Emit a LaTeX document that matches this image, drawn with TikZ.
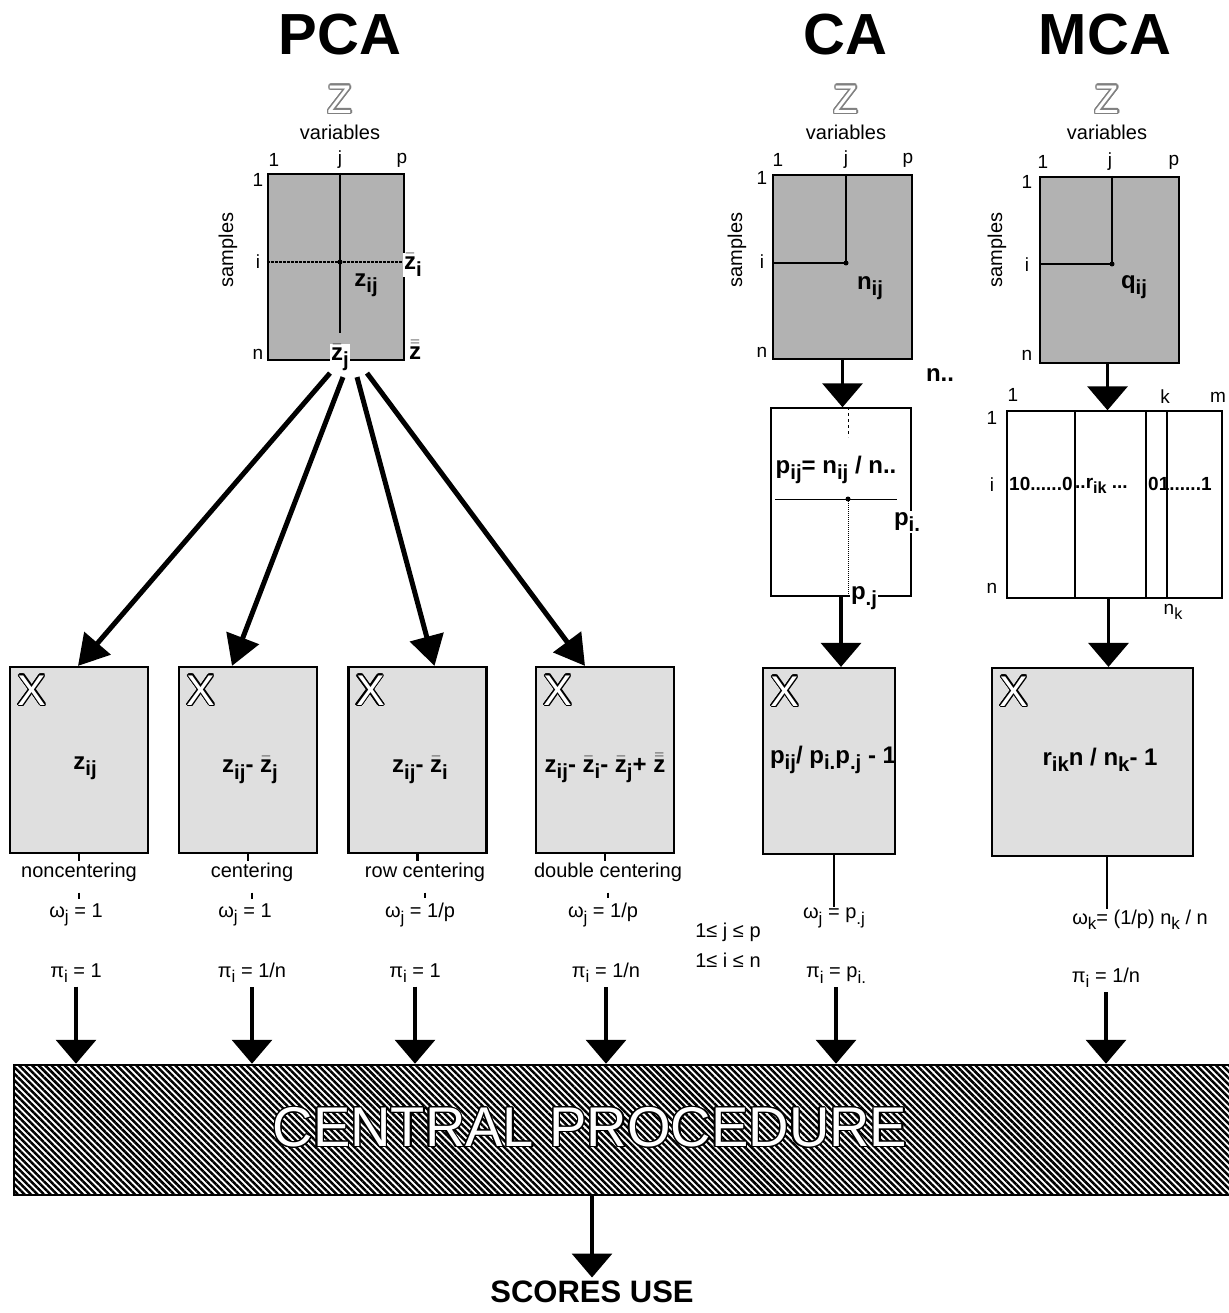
\documentclass[tikz,border=0pt]{standalone}
\usepackage{fontspec}
\setmainfont{Liberation Sans}
\usepackage{graphicx}
\usepackage[copies]{contour}
\usetikzlibrary{arrows.meta,patterns.meta}
\contourlength{1.3pt}

\newcommand{\zb}{\ensuremath{\bar{\hbox{\bfseries z}}}}
\newcommand{\zbb}{\ensuremath{\bar{\bar{\hbox{\bfseries z}}}}}
\newcommand{\lo}[1]{\raisebox{-0.5ex}{\scalebox{0.85}{#1}}}

\begin{document}
\begin{tikzpicture}
[x=1pt,y=-1pt,
  zmat/.style={draw,line width=2.2pt,fill=gray!60,inner sep=0pt},%
  xmat/.style={draw,line width=2.2pt,fill=gray!25,inner sep=0pt},%
  wmat/.style={draw,line width=1.4pt,fill=white,inner sep=0pt},%
  idx/.style={font=\fontsize{19}{21}\selectfont,inner sep=1pt},%
  note/.style={font=\fontsize{20}{22}\selectfont,inner sep=1pt},%
  form/.style={font=\bfseries\fontsize{24}{26}\selectfont,inner sep=1pt},%
  headline/.style={font=\bfseries\fontsize{58}{60}\selectfont},%
  zlet/.style={font=\fontsize{40}{40}\selectfont,text=white},%
  xlet/.style={font=\fontsize{43}{43}\selectfont,text=white,inner sep=0pt},%
  cutout/.style={fill=white,inner sep=1pt},%
  fanArrow/.style={line width=5pt,-{Triangle[length=30pt,width=34pt]}},%
  downArrow/.style={line width=3.5pt,-{Triangle[length=24pt,width=40pt]}},%
  stub/.style={line width=2.5pt}]
\useasboundingbox (0,0) rectangle (1228,1313);
%% titles and Z headers
\node[headline] (pcaT) at (340,35) {PCA};
\node[headline] (caT) at (845,35) {CA};
\node[headline] (mcaT) at (1105,35) {MCA};
\foreach \nm/\x in {pca/340, ca/846, mca/1107}
{
  \node[zlet] (\nm Zl) at (\x,100) {\contour{gray}{Z}};
  \node[note] (\nm Var) at (\x,132) {variables};
}
%% data matrices
\node[zmat,minimum width=136pt,minimum height=186pt] (pcaZ) at (336,267) {};
\node[zmat,minimum width=139pt,minimum height=184pt] (caZ) at (842.5,267) {};
\node[zmat,minimum width=139pt,minimum height=186pt] (mcaZ) at (1109.5,270) {};
\foreach \nm/\xa/\xj/\xp/\yt/\xl/\ya/\yi/\yn/\xs in {
  pca/274/340/402/160/258/180/262/354/228,
  ca/778/846/908/160/762/178/262/352/737,
  mca/1043/1110/1174/162/1027/182/265/355/997}
{
  \node[idx] (\nm T1) at (\xa,\yt) {1};
  \node[idx] (\nm Tj) at (\xj,\yt) {j};
  \node[idx] (\nm Tp) at (\xp,\yt) {p};
  \node[idx] (\nm L1) at (\xl,\ya) {1};
  \node[idx] (\nm Li) at (\xl,\yi) {i};
  \node[idx] (\nm Ln) at (\xl,\yn) {n};
  \node[note,rotate=90] (\nm S) at (\xs,250) {samples};
}
%% PCA matrix inside
\coordinate (pcaij) at (340,262);
\draw[line width=1.6pt] (pcaij |- pcaZ.north) -- (340,333);
\draw[line width=1.6pt,dash pattern=on 3pt off 1pt] (pcaZ.west |- pcaij) -- (pcaZ.east |- pcaij);
\fill (pcaij) circle (2.5pt);
\node[form] (pcazij) at (366,285) {z\lo{ij}};
\node[form,cutout] (pcaZi) at (413,265) {\zb\lo{i}};
\node[form,cutout] (pcaZj) at (340,358) {\zb\lo{j}};
\node[form,cutout] (pcaZz) at (415,350) {\zbb};
%% CA matrix inside
\coordinate (caij) at (846,263);
\draw[line width=1.6pt] (caij |- caZ.north) -- (caij) -- (caZ.west |- caij);
\fill (caij) circle (2.5pt);
\node[form] (canij) at (870,288) {n\lo{ij}};
\node[form] (cann) at (940,375) {n..};
%% MCA matrix inside
\coordinate (mcaij) at (1112,264);
\draw[line width=1.6pt] (mcaij |- mcaZ.north) -- (mcaij) -- (mcaZ.west |- mcaij);
\fill (mcaij) circle (2.5pt);
\node[form] (mcaqij) at (1134,287) {q\lo{ij}};
%% CA frequency table
\node[wmat,minimum width=140pt,minimum height=188pt] (caP) at (841,502) {};
\coordinate (caPij) at (848,499);
\draw[line width=1pt,dashed] (caPij |- caP.north) -- ++(0,30);
\draw[line width=1pt] ([xshift=5pt]caP.west |- caPij) -- ([xshift=-15pt]caP.east |- caPij);
\draw[line width=1pt,densely dotted] (caPij) -- (caPij |- caP.south);
\fill (caPij) circle (2.5pt);
\node[form] (caPf) at (836,470) {p\lo{ij}= n\lo{ij} / n..};
\node[form,cutout] (caPi) at (907,522) {p\lo{i.}};
\node[form,cutout] (caPj) at (864,598) {p\lo{.j}};
%% MCA indicator table
\node[wmat,minimum width=215pt,minimum height=187pt] (mcaI) at (1114.5,504.5) {};
\foreach \x in {1075,1146,1167}
{
  \draw[line width=1.4pt] (\x,0 |- mcaI.north) -- (\x,0 |- mcaI.south);
}
\node[idx] (mcaK1) at (1013,395) {1};
\node[idx] (mcaKk) at (1165,397) {k};
\node[idx] (mcaKm) at (1218,397) {m};
\node[idx] (mcaR1) at (992,418) {1};
\node[idx] (mcaRi) at (992,485) {i};
\node[idx] (mcaRn) at (992,588) {n};
\node[idx,font=\bfseries\fontsize{19}{21}\selectfont,anchor=west] (mcaRowa) at (1008,484) {10......0};
\node[idx,font=\bfseries\fontsize{19}{21}\selectfont,anchor=west] (mcaRowb) at (1074,486) {..r\lo{ik} ...};
\node[idx,font=\bfseries\fontsize{19}{21}\selectfont,anchor=west] (mcaRowc) at (1147,484) {01......1};
\node[idx] (mcaNk) at (1173,612) {n\lo{k}};
%% X matrices
\foreach \nm/\x in {xa/79, xb/248, xc/417.5, xd/605}
{
  \node[xmat,minimum width=138pt,minimum height=186pt] (\nm) at (\x,760) {};
}
\node[xmat,minimum width=132pt,minimum height=186pt] (caX) at (829,761) {};
\node[xmat,minimum width=201pt,minimum height=188pt] (mcaX) at (1092.5,762) {};
\foreach \nm in {xa, xb, xc, xd, caX, mcaX}
{
  \node[xlet] (\nm L) at ([xshift=23pt,yshift=-25pt]\nm.north west) {\contour{black}{X}};
}
\node[form] (xaF) at (85,768) {z\lo{ij}};
\node[form] (xbF) at (250,770) {z\lo{ij}- \zb\lo{j}};
\node[form] (xcF) at (420,770) {z\lo{ij}- \zb\lo{i}};
\node[form] (xdF) at (605,768) {z\lo{ij}- \zb\lo{i}- \zb\lo{j}+ \zbb};
\node[form] (caXF) at (833,760) {p\lo{ij}/ p\lo{i.}p\lo{.j} - 1};
\node[form] (mcaXF) at (1100,760) {r\lo{ik}n / n\lo{k}- 1};
%% labels below
\node[note] (xaN) at (79,872) {noncentering};
\node[note] (xbN) at (252,872) {centering};
\node[note] (xcN) at (425,872) {row centering};
\node[note] (xdN) at (608,872) {double centering};
\node[note] (xaW) at (76,915) {ω\lo{j} = 1};
\node[note] (xbW) at (245,915) {ω\lo{j} = 1};
\node[note] (xcW) at (420,915) {ω\lo{j} = 1/p};
\node[note] (xdW) at (603,915) {ω\lo{j} = 1/p};
\node[note] (caW) at (834,918) {ω\lo{j} = p\lo{.j}};
\node[note] (mcaW) at (1140,920) {ω\lo{k}= (1/p) n\lo{k} / n};
\node[note] (xaP) at (76,973) {π\lo{i} = 1};
\node[note] (xbP) at (252,973) {π\lo{i} = 1/n};
\node[note] (xcP) at (415,973) {π\lo{i} = 1};
\node[note] (xdP) at (606,973) {π\lo{i} = 1/n};
\node[note] (caP2) at (836,975) {π\lo{i} = p\lo{i.}};
\node[note] (mcaP) at (1106,978) {π\lo{i} = 1/n};
\node[note] (rngj) at (728,932) {1≤ j ≤ p};
\node[note] (rngi) at (728,960) {1≤ i ≤ n};
%% central procedure
\node[draw,line width=1.5pt,pattern={Lines[angle=-45,distance=4.6pt,line width=2.5pt]},
  minimum width=1226pt,minimum height=130pt,inner sep=0pt] (central) at (627,1130) {};
\node[font=\fontsize{56}{56}\selectfont,text=white] (cpT) at (590,1128) {\contour{black}{CENTRAL PROCEDURE}};
\node[font=\bfseries\fontsize{31}{31}\selectfont] (scores) at (592,1292) {SCORES USE};
%% arrows
\draw[fanArrow] ([xshift=-6pt,yshift=-12pt]pcaZ.south) -- ([xshift=-1pt]xa.north);
\draw[fanArrow] ([xshift=7pt,yshift=-16pt]pcaZ.south) -- ([xshift=-16pt]xb.north);
\draw[fanArrow] ([xshift=21pt,yshift=-16pt]pcaZ.south) -- ([xshift=17pt]xc.north);
\draw[fanArrow] ([xshift=31pt,yshift=-12pt]pcaZ.south) -- ([xshift=-20pt]xd.north);
\draw[downArrow] (caZ.south) -- (caZ.south |- caP.north);
\draw[downArrow] (caP.south) -- (caP.south |- caX.north);
\draw[downArrow] ([xshift=-2pt]mcaZ.south) -- ([xshift=-2pt]mcaZ.south |- mcaI.north);
\draw[downArrow] ([xshift=-6pt]mcaI.south) -- ([xshift=-6pt]mcaI.south |- mcaX.north);
\foreach \nm in {xa, xb, xc, xd}
{
  \draw[stub] (\nm.south) -- (\nm.south |- \nm N.north);
  \draw[stub,shorten <=10pt,shorten >=4pt] (\nm N.south) -- (\nm N.south |- \nm W.north);
}
\draw[stub] (caW.north |- caX.south) -- (caW.north);
\draw[stub] ([xshift=14.5pt]mcaX.south) -- ([xshift=14.5pt]mcaX.south |- mcaW.north);
\foreach \nm in {xaP, xbP, xcP, xdP, caP2, mcaP}
{
  \draw[downArrow,shorten <=3pt] (\nm.south) -- (\nm.south |- central.north);
}
\draw[downArrow] (scores.north |- central.south) -- (scores.north);
\end{tikzpicture}
\end{document}
